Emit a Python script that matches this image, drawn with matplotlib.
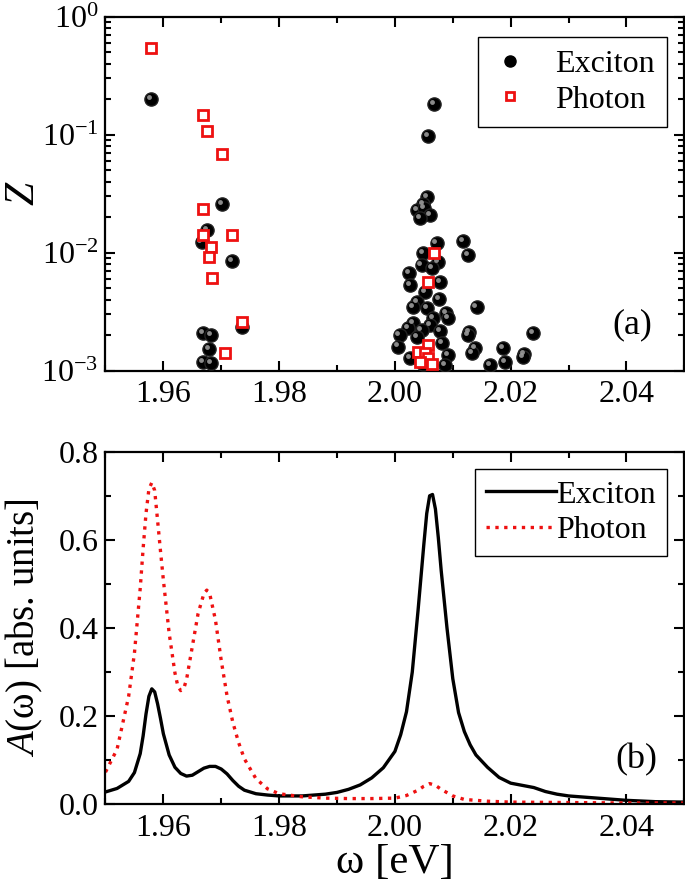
import numpy as np
import matplotlib
matplotlib.use('Agg')
import matplotlib.pyplot as plt
import matplotlib.transforms as mtransforms
from matplotlib.lines import Line2D
from matplotlib.ticker import MultipleLocator, FormatStrFormatter, LogLocator

plt.rcParams['font.family'] = ['Liberation Serif', 'DejaVu Serif']
plt.rcParams['mathtext.fontset'] = 'custom'
plt.rcParams['mathtext.rm'] = 'Liberation Serif'
plt.rcParams['mathtext.it'] = 'Liberation Serif:italic'

# (a) residues Z of the poles
exc_w = [1.9579, 1.9701, 1.9676, 1.9666, 1.9718, 1.9736, 1.9668, 1.9682, 1.9679, 1.9668, 1.9683,
         2.0068, 2.0058, 2.0056, 2.0049, 2.0039, 2.0051, 2.0061, 2.0043, 2.0118, 2.0127,
         2.0072, 2.0049, 2.0075, 2.0046, 2.0064, 2.0025, 2.0078, 2.0026, 2.0052, 2.0077,
         2.0038, 2.0031, 2.0141, 2.0055, 2.0089, 2.0066, 2.0092, 2.0032, 2.0061, 2.0023,
         2.0046, 2.0078, 2.0008, 2.0128, 2.0126, 2.0238, 2.0038, 2.0006, 2.0081, 2.0138,
         2.0133, 2.0187, 2.0223, 2.0092, 2.0026, 2.0164, 2.0190, 2.0087, 2.0049, 2.0222]
exc_z = [0.200, 0.0259, 0.0156, 0.0122, 0.00855, 0.00236, 0.00210, 0.00200, 0.00152, 0.00119, 0.00117,
         0.181, 0.098, 0.0295, 0.0259, 0.0230, 0.0238, 0.0209, 0.0196, 0.0126, 0.00957,
         0.0120, 0.00989, 0.00839, 0.00787, 0.00738, 0.00677, 0.00568, 0.00532, 0.00467, 0.00405,
         0.00384, 0.00349, 0.00349, 0.00338, 0.00306, 0.00278, 0.00278, 0.00252, 0.00244, 0.00229,
         0.00221, 0.00218, 0.00201, 0.00214, 0.00201, 0.00207, 0.00194, 0.00160, 0.00171, 0.00155,
         0.00140, 0.00155, 0.00139, 0.00136, 0.00127, 0.00112, 0.00119, 0.00112, 0.00114, 0.00130]

pho_w = [1.9579, 1.9669, 1.9676, 1.9701, 1.9669, 1.9669, 1.9718, 1.9682, 1.9679, 1.9684, 1.9736, 1.9707,
         2.0067, 2.0058, 2.0058, 2.0040, 2.0052, 2.0058, 2.0043, 2.0064]
pho_z = [0.546, 0.147, 0.107, 0.0686, 0.0233, 0.0140, 0.0140, 0.0112, 0.0092, 0.00614, 0.00259, 0.00142,
         0.00989, 0.00568, 0.00165, 0.00145, 0.00142, 0.00127, 0.00119, 0.00114]

# (b) spectral functions
ex_w = [1.950, 1.952, 1.954, 1.955, 1.956, 1.9565, 1.957, 1.9575, 1.958, 1.9585, 1.959, 1.9595,
        1.960, 1.961, 1.962, 1.963, 1.964, 1.965, 1.966, 1.967, 1.968, 1.969, 1.970, 1.971, 1.972,
        1.973, 1.974, 1.976, 1.978, 1.980, 1.984, 1.988, 1.990, 1.992, 1.994, 1.996, 1.998, 2.000,
        2.001, 2.002, 2.003, 2.004, 2.005, 2.0055, 2.006, 2.0065, 2.007, 2.0075, 2.008, 2.009,
        2.010, 2.011, 2.012, 2.013, 2.014, 2.016, 2.018, 2.020, 2.022, 2.024, 2.026, 2.028, 2.030,
        2.035, 2.040, 2.045, 2.050]
ex_a = [0.028, 0.036, 0.052, 0.072, 0.115, 0.155, 0.205, 0.245, 0.262, 0.255, 0.228, 0.195,
        0.160, 0.112, 0.084, 0.070, 0.064, 0.066, 0.074, 0.082, 0.086, 0.086, 0.080, 0.069, 0.054,
        0.041, 0.032, 0.024, 0.021, 0.019, 0.019, 0.023, 0.027, 0.034, 0.044, 0.060, 0.083, 0.120,
        0.158, 0.210, 0.300, 0.440, 0.590, 0.660, 0.700, 0.703, 0.670, 0.605, 0.530, 0.400,
        0.285, 0.208, 0.165, 0.135, 0.112, 0.084, 0.061, 0.048, 0.043, 0.038, 0.029, 0.023, 0.019,
        0.014, 0.009, 0.006, 0.005]

ph_w = [1.950, 1.952, 1.954, 1.955, 1.956, 1.9565, 1.957, 1.9575, 1.958, 1.9585, 1.959, 1.9595,
        1.960, 1.961, 1.962, 1.9625, 1.963, 1.9635, 1.964, 1.965, 1.966, 1.967, 1.9675, 1.968,
        1.969, 1.970, 1.971, 1.972, 1.973, 1.974, 1.976, 1.978, 1.980, 1.984, 1.988, 1.992, 1.996,
        2.000, 2.002, 2.004, 2.005, 2.006, 2.007, 2.008, 2.010, 2.012, 2.016, 2.020, 2.030, 2.040,
        2.050]
ph_a = [0.073, 0.125, 0.245, 0.343, 0.490, 0.580, 0.660, 0.715, 0.730, 0.712, 0.644, 0.575,
        0.509, 0.388, 0.298, 0.268, 0.258, 0.262, 0.283, 0.358, 0.433, 0.478, 0.486, 0.478,
        0.418, 0.326, 0.246, 0.186, 0.140, 0.103, 0.058, 0.035, 0.024, 0.017, 0.014, 0.013, 0.013,
        0.014, 0.020, 0.032, 0.041, 0.047, 0.043, 0.034, 0.019, 0.011, 0.007, 0.005, 0.004, 0.003,
        0.003]

xticks = [1.96, 1.98, 2.00, 2.02, 2.04]
red = '#ee1111'

fig = plt.figure(figsize=(6.85, 8.91), dpi=100)
ax1 = fig.add_axes([0.154, 0.584, 0.845, 0.3973])
ax2 = fig.add_axes([0.154, 0.0973, 0.845, 0.3957])


def style(ax):
    for s in ax.spines.values():
        s.set_linewidth(1.6)
    ax.tick_params(which='both', direction='in', top=True, right=True, width=1.5, labelsize=23)
    ax.tick_params(which='major', length=7)
    ax.tick_params(which='minor', length=4)
    ax.set_xlim(1.95, 2.05)
    ax.set_xticks(xticks)
    ax.xaxis.set_minor_locator(MultipleLocator(0.01))
    ax.xaxis.set_major_formatter(FormatStrFormatter('%.2f'))
    ax.tick_params(axis='x', pad=7)
    ax.tick_params(axis='y', pad=5)


# --- panel (a)
ax1.plot(exc_w, exc_z, 'o', color='black', mec='#222222', ms=9.5, zorder=3)
hl = mtransforms.offset_copy(ax1.transData, fig=fig, x=-1.5, y=1.5, units='points')
ax1.plot(exc_w, exc_z, 'o', color='#9a9a9a', mec='none', ms=3.5, alpha=0.9, transform=hl, zorder=4)
ax1.plot(pho_w, pho_z, 's', mfc='white', mec=red, mew=2.0, ms=7.5, zorder=5)
ax1.set_yscale('log')
ax1.set_ylim(1e-3, 1)
ax1.yaxis.set_minor_locator(LogLocator(base=10, subs=np.arange(2, 10)))
style(ax1)
ax1.set_ylabel('$Z$', fontsize=30)
ax1.yaxis.set_label_coords(-0.108, 0.5)
ax1.text(0.91, 0.13, '(a)', transform=ax1.transAxes, fontsize=26, ha='center', va='center')
h1 = [Line2D([], [], marker='o', ls='none', color='black', ms=8),
      Line2D([], [], marker='s', ls='none', mfc='white', mec=red, mew=2.0, ms=6)]
leg1 = ax1.legend(h1, ['Exciton', 'Photon'], loc='upper right', bbox_to_anchor=(0.9706, 0.9435),
                  borderaxespad=0, fontsize=23, fancybox=False, framealpha=1, edgecolor='black',
                  handlelength=1.2, handletextpad=0.8, labelspacing=0.2, borderpad=0.4)
leg1.get_frame().set_linewidth(1.0)

# --- panel (b)
ax2.plot(ex_w, ex_a, color='black', lw=2.4, label='Exciton')
ax2.plot(ph_w, ph_a, color=red, lw=2.4, ls=':', label='Photon')
ax2.set_ylim(0, 0.8)
ax2.yaxis.set_major_locator(MultipleLocator(0.2))
ax2.yaxis.set_minor_locator(MultipleLocator(0.1))
ax2.yaxis.set_major_formatter(FormatStrFormatter('%.1f'))
style(ax2)
ax2.set_ylabel('$A$(ω) [abs. units]', fontsize=28)
ax2.yaxis.set_label_coords(-0.104, 0.5)
ax2.set_xlabel('ω [eV]', fontsize=31, labelpad=0)
ax2.text(0.917, 0.126, '(b)', transform=ax2.transAxes, fontsize=26, ha='center', va='center')
leg2 = ax2.legend(loc='upper right', bbox_to_anchor=(0.970, 0.951), borderaxespad=0, fontsize=23,
                  fancybox=False, framealpha=1, edgecolor='black', handlelength=2.2,
                  handletextpad=0.0, labelspacing=0.2, borderpad=0.35)
leg2.get_frame().set_linewidth(1.0)

fig.savefig('out.png', dpi=100)
